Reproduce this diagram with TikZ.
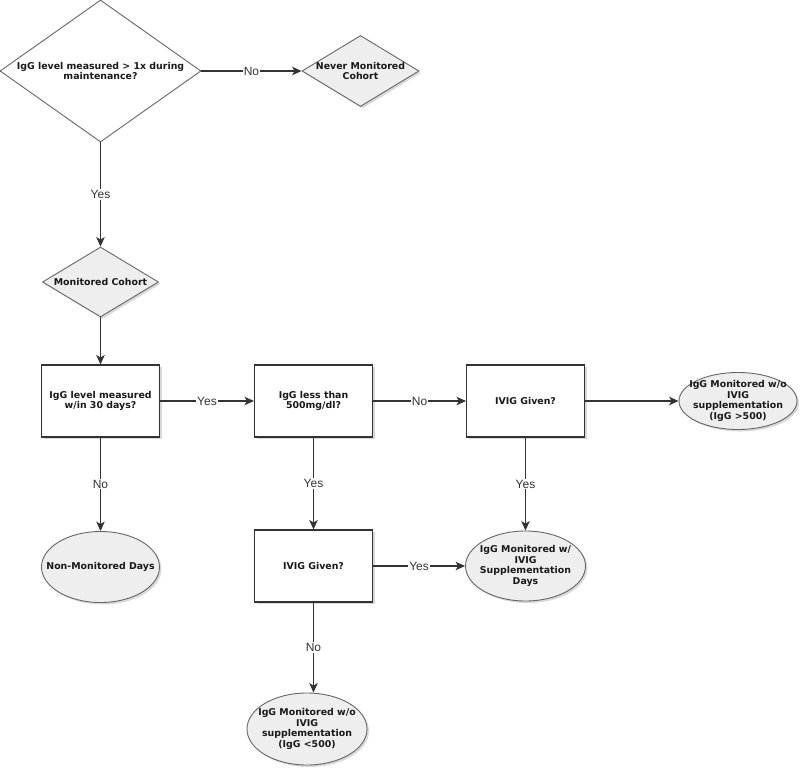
\documentclass[tikz,border=0pt]{standalone}
\usepackage{fontspec}
\setmainfont{DejaVu Sans}
\newfontfamily\edgefont{Liberation Sans}
\usetikzlibrary{arrows.meta, shapes.geometric, shadows}
\definecolor{linegray}{HTML}{333333}
\definecolor{shapefill}{HTML}{EEEEEE}
\tikzset{
  flow/.style={-{Stealth[length=9.5pt, width=8.5pt, inset=2.5pt]}, line width=1.1pt, color=linegray},
  yesno/.style={midway, fill=white, inner sep=1pt, font=\edgefont\fontsize{12}{12}\selectfont, text=black!80},
  boxtext/.style={font=\bfseries\fontsize{9.4}{10.6}\selectfont, align=center, text=black!90},
  shady/.style={drop shadow={shadow xshift=2pt, shadow yshift=-2pt, opacity=0.3}},
  question/.style={rectangle, draw=linegray, line width=1.1pt, fill=white, shady, minimum width=118pt, minimum height=72pt, boxtext},
  decision/.style={diamond, draw=black!60, line width=0.9pt, fill=white, inner sep=0pt},
  cohort/.style={decision, fill=shapefill, shady},
  outcome/.style={ellipse, draw=black!60, line width=0.9pt, fill=shapefill, shady, inner sep=0pt}
}

\begin{document}
\begin{tikzpicture}[x=1pt, y=-1pt]
\useasboundingbox (0,0) rectangle (800,771);

\node[decision, minimum width=201pt, minimum height=142pt,
  label={[boxtext]center:{IgG level measured > 1x during\\maintenance?}}] (maint) at (100.5,71) {};
\node[cohort, minimum width=117pt, minimum height=71pt,
  label={[boxtext]center:{Never Monitored\\Cohort}}] (never) at (360.5,71) {};
\node[cohort, minimum width=116pt, minimum height=70pt,
  label={[boxtext]center:{Monitored Cohort}}] (monitored) at (100.5,282) {};

\node[question] (within) at (100.5,401) {IgG level measured\\w/in 30 days?};
\node[question] (less) at (313.5,401) {IgG less than\\500mg/dl?};
\node[question] (ivig) at (525.5,401) {IVIG Given?};
\node[question] (given) at (313.5,566) {IVIG Given?};

\node[outcome, minimum width=118pt, minimum height=57pt,
  label={[boxtext]center:{IgG Monitored w/o\\IVIG\\supplementation\\(IgG >500)}}] (over) at (738,401) {};
\node[outcome, minimum width=118pt, minimum height=71pt,
  label={[boxtext]center:{Non-Monitored Days}}] (nonmon) at (100.5,567) {};
\node[outcome, minimum width=120pt, minimum height=70pt,
  label={[boxtext]center:{IgG Monitored w/\\IVIG\\Supplementation\\Days}}] (suppl) at (525.5,566) {};
\node[outcome, minimum width=120pt, minimum height=72pt,
  label={[boxtext]center:{IgG Monitored w/o\\IVIG\\supplementation\\(IgG <500)}}] (under) at (307,729) {};

% top decision
\draw[flow] (maint) -- node[yesno] {No} (never);
\draw[flow] (maint) -- node[yesno] {Yes} (monitored);
\draw[flow] (monitored) -- (within);

% monitored row
\draw[flow] (within) -- node[yesno] {Yes} (less);
\draw[flow] (less) -- node[yesno] {No} (ivig);
\draw[flow] (ivig) -- (over);

% down the columns
\draw[flow] (within) -- node[yesno] {No} (nonmon);
\draw[flow] (less) -- node[yesno] {Yes} (given);
\draw[flow] (ivig) -- node[yesno] {Yes} (suppl);
\draw[flow] (given) -- node[yesno] {Yes} (suppl);
\draw[flow] (given.south) -- node[yesno] {No} (given.south |- under.north);

\end{tikzpicture}
\end{document}
